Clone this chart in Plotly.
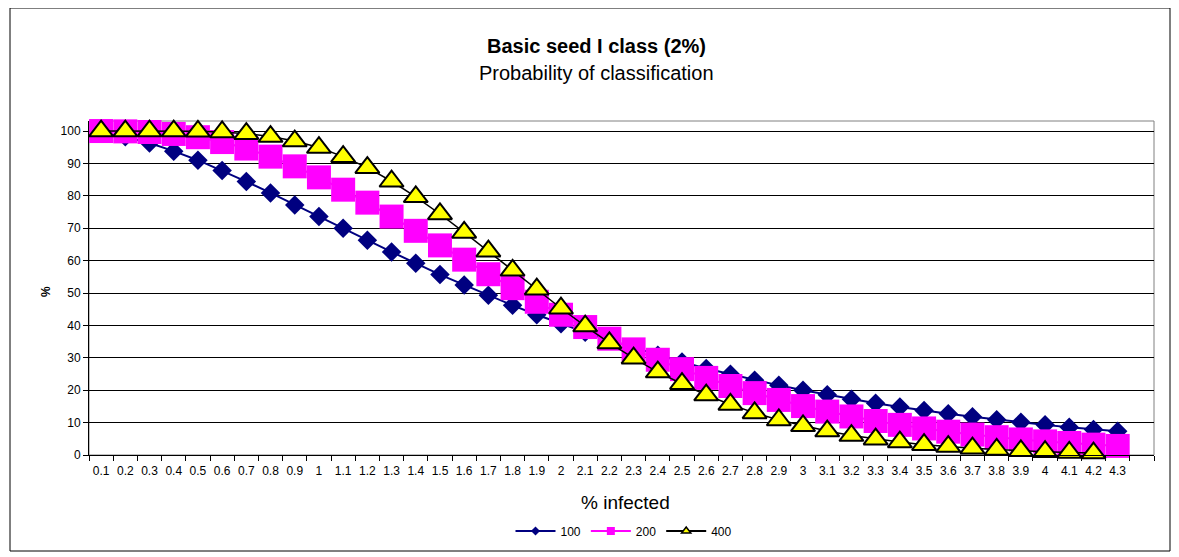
import plotly.graph_objects as go

# ---- data ----
categories = ["0.1", "0.2", "0.3", "0.4", "0.5", "0.6", "0.7", "0.8", "0.9", "1",
              "1.1", "1.2", "1.3", "1.4", "1.5", "1.6", "1.7", "1.8", "1.9", "2",
              "2.1", "2.2", "2.3", "2.4", "2.5", "2.6", "2.7", "2.8", "2.9", "3",
              "3.1", "3.2", "3.3", "3.4", "3.5", "3.6", "3.7", "3.8", "3.9", "4",
              "4.1", "4.2", "4.3"]

s100 = [99.5, 98.2, 96.3, 93.8, 91.0, 87.8, 84.4, 80.9, 77.2, 73.6,
        70.0, 66.3, 62.7, 59.2, 55.7, 52.5, 49.3, 46.2, 43.3, 40.5,
        37.9, 35.4, 33.1, 30.8, 28.7, 26.7, 24.9, 23.1, 21.5, 20.0,
        18.6, 17.2, 16.0, 14.8, 13.7, 12.7, 11.8, 10.9, 10.1, 9.3,
        8.6, 7.9, 7.3]

s200 = [100.0, 99.9, 99.7, 99.1, 98.1, 96.6, 94.6, 92.1, 89.1, 85.7,
        81.9, 77.9, 73.6, 69.2, 64.7, 60.3, 55.8, 51.5, 47.3, 43.3,
        39.5, 35.9, 32.6, 29.4, 26.5, 23.8, 21.3, 19.1, 17.0, 15.1,
        13.4, 11.9, 10.5, 9.3, 8.2, 7.2, 6.3, 5.5, 4.8, 4.2,
        3.7, 3.2, 2.8]

s400 = [100.0, 100.0, 100.0, 99.98, 99.9, 99.7, 99.2, 98.3, 96.9, 94.9,
        92.1, 88.7, 84.5, 79.7, 74.4, 68.7, 62.9, 57.0, 51.2, 45.3,
        39.8, 34.6, 29.9, 25.6, 22.0, 18.5, 15.6, 13.0, 10.8, 9.0,
        7.4, 6.0, 4.9, 4.0, 3.2, 2.6, 2.1, 1.7, 1.3, 1.0,
        0.8, 0.6]

series_names = ["100", "200", "400"]
y_ticks = [0, 10, 20, 30, 40, 50, 60, 70, 80, 90, 100]

title_text = "<b>Basic seed I class (2%)</b>"
subtitle_text = "Probability of classification"
x_title = "% infected"
y_title = "%"

FONT = "Arial, 'Liberation Sans', sans-serif"
NAVY = "#000080"
MAGENTA = "#FF00FF"
YELLOW = "#FFFF00"

fig = go.Figure()

# series 100
fig.add_trace(go.Scatter(
    x=categories, y=s100, mode="lines+markers", name=series_names[0],
    line=dict(color=NAVY, width=2),
    marker=dict(symbol="diamond", size=15, color=NAVY, line=dict(width=0)),
    showlegend=False, cliponaxis=False))
# series 200
fig.add_trace(go.Scatter(
    x=categories, y=s200, mode="lines+markers", name=series_names[1],
    line=dict(color=MAGENTA, width=2),
    marker=dict(symbol="square", size=24, color=MAGENTA, line=dict(width=0)),
    showlegend=False, cliponaxis=False))
# series 400
fig.add_trace(go.Scatter(
    x=categories[:len(s400)], y=s400, mode="lines+markers", name=series_names[2],
    line=dict(color="black", width=1.5),
    marker=dict(symbol="triangle-up", size=21, color=YELLOW,
                line=dict(color="black", width=2)),
    showlegend=False, cliponaxis=False))

# legend entries (small markers as in the reference)
fig.add_trace(go.Scatter(x=[None], y=[None], mode="lines+markers", name=series_names[0],
                         line=dict(color=NAVY, width=2),
                         marker=dict(symbol="diamond", size=7, color=NAVY)))
fig.add_trace(go.Scatter(x=[None], y=[None], mode="lines+markers", name=series_names[1],
                         line=dict(color=MAGENTA, width=2),
                         marker=dict(symbol="square", size=8, color=MAGENTA)))
fig.add_trace(go.Scatter(x=[None], y=[None], mode="lines+markers", name=series_names[2],
                         line=dict(color="black", width=2),
                         marker=dict(symbol="triangle-up", size=8, color=YELLOW,
                                     line=dict(color="black", width=1.5))))

W, H = 1179, 557
OFF = 8  # page body margin offset
# page coordinates of the plot area
L, R, T, B = 89, 1154, 121, 455

def px(x):
    return (x - L) / (R - L)

def py(y):
    return (B - y) / (B - T)

fig.update_layout(
    width=W, height=H,
    margin=dict(l=L - OFF, r=W - (R - OFF), t=T - OFF, b=H - (B - OFF)),
    paper_bgcolor="white", plot_bgcolor="white",
    font=dict(family=FONT, size=12, color="black"),
    showlegend=True,
    legend=dict(orientation="h", x=px(624), xanchor="center", y=py(531), yanchor="middle",
                font=dict(size=12, family=FONT), bgcolor="rgba(0,0,0,0)",
                itemwidth=40, tracegroupgap=0),
    xaxis=dict(
        type="category", categoryorder="array", categoryarray=categories + [" "],
        range=[-0.5, len(categories) + 0.5], tickson="boundaries",
        ticks="outside", ticklen=5, tickcolor="black", tickwidth=1,
        ticklabelstandoff=5,
        showgrid=False, showline=True, linecolor="black", linewidth=1,
        tickfont=dict(size=12, family=FONT), tickangle=0, zeroline=False),
    yaxis=dict(
        range=[0, 103.1], tickvals=y_ticks, ticks="outside", ticklen=5,
        tickcolor="black", showgrid=True, gridcolor="black", gridwidth=1,
        showline=True, linecolor="black", linewidth=1, zeroline=False,
        tickfont=dict(size=12, family=FONT)),
    shapes=[
        # plot-area border
        dict(type="rect", xref="paper", yref="paper", x0=0, x1=1, y0=0, y1=1,
             line=dict(color="#808080", width=1), layer="below"),
        # chart-area border
        dict(type="rect", xref="paper", yref="paper",
             x0=px(10), x1=px(1170), y0=py(551), y1=py(8),
             line=dict(color="black", width=1)),
    ],
    annotations=[
        dict(text=title_text, xref="paper", yref="paper", x=px(596), y=py(46),
             showarrow=False, font=dict(size=20, family=FONT), xanchor="center", yanchor="middle"),
        dict(text=subtitle_text, xref="paper", yref="paper", x=px(596), y=py(73),
             showarrow=False, font=dict(size=20, family=FONT), xanchor="center", yanchor="middle"),
        dict(text=x_title, xref="paper", yref="paper", x=px(625), y=py(502),
             showarrow=False, font=dict(size=19, family=FONT), xanchor="center", yanchor="middle"),
        dict(text="<b>" + y_title + "</b>", xref="paper", yref="paper", x=px(46), y=py(292),
             showarrow=False, textangle=-90, font=dict(size=12, family=FONT),
             xanchor="center", yanchor="middle"),
    ],
)

fig.write_html("out.html")
